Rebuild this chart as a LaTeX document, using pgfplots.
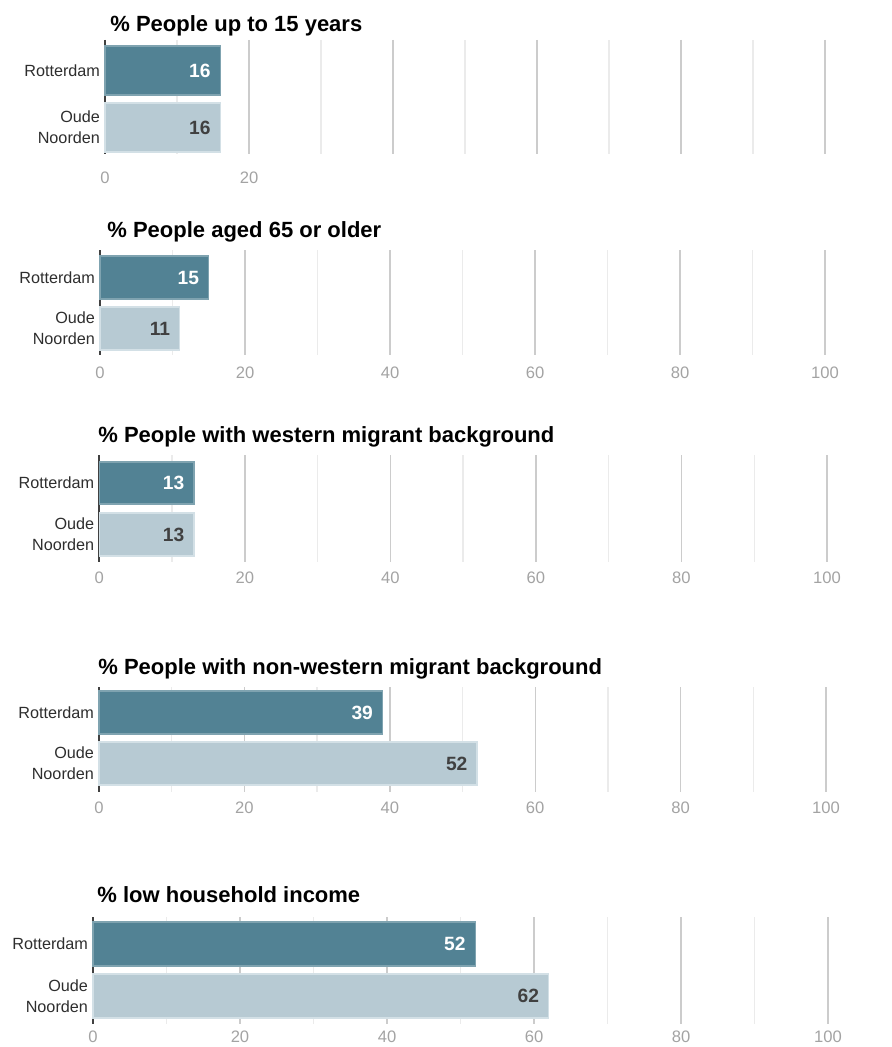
\documentclass[border=0pt]{standalone}
\usepackage{fontspec}
\setmainfont{Liberation Sans}
\usepackage{pgfplots}
\pgfplotsset{compat=1.18}
\definecolor{rfill}{HTML}{528294}
\definecolor{rdraw}{HTML}{7FA3B0}
\definecolor{ofill}{HTML}{B7CAD3}
\definecolor{odraw}{HTML}{D3E0E6}
\pgfplotsset{
  panel/.style={
    scale only axis, anchor=south west, clip=false,
    xbar, bar shift=0pt,
    xmin=0, xmax=100, y dir=reverse,
    xtick={0,20,...,100}, minor xtick={10,30,...,90},
    xmajorgrids, xminorgrids,
    major grid style={black!20, line width=0.7pt},
    minor grid style={black!8, line width=0.7pt},
    axis line style={draw=none},
    major tick length=0pt, minor tick length=0pt,
    tick style={draw=none},
    yticklabels={Rotterdam, Oude\\Noorden},
    yticklabel style={align=right, font=\fontsize{8.1}{10.5}\selectfont, text=black!82, xshift=1pt},
    xticklabel style={font=\fontsize{8.3}{10}\selectfont, text=black!36},
    /pgf/number format/assume math mode=true,
    extra x ticks={0}, extra x tick labels={},
    extra x tick style={major grid style={black!75, line width=0.8pt}},
    nodes near coords, point meta=x,
    nodes near coords style={anchor=east, xshift=-1.2pt, font=\fontsize{9.6}{10}\selectfont\bfseries},
  },
  rbar/.style={fill=rfill, draw=rdraw, line width=0.6pt, every node near coord/.append style={text=white}},
  obar/.style={fill=ofill, draw=odraw, line width=0.6pt, every node near coord/.append style={text=black!75}},
}
\begin{document}
\begin{tikzpicture}
\path[use as bounding box] (0pt,0pt) rectangle (445.5pt,-523.5pt);
\tikzset{ttl/.style={anchor=west, inner sep=0pt, font=\fontsize{11}{13}\selectfont\bfseries}}
% Panel 1
\node[ttl] at (55pt,-13pt) {\% People up to 15 years};
\begin{axis}[panel, at={(52.5pt,-77pt)}, width=360pt, height=57pt,
  ymin=40, ymax=154, ytick={70.5,127.5},
  xticklabels={0,20,,,,}, xticklabel style={yshift=-5.5pt}]
\addplot[rbar, bar width=49] coordinates {(16,70.5)};
\addplot[obar, bar width=49] coordinates {(16,127.5)};
\end{axis}
% Panel 2
\node[ttl] at (53.5pt,-116pt) {\% People aged 65 or older};
\begin{axis}[panel, at={(50pt,-177.5pt)}, width=362.5pt, height=52.5pt,
  ymin=250, ymax=355, ytick={277.5,328.5}, xticklabel style={yshift=-2.5pt}]
\addplot[rbar, bar width=43] coordinates {(15,277.5)};
\addplot[obar, bar width=43] coordinates {(11,328.5)};
\end{axis}
% Panel 3
\node[ttl] at (49pt,-218.5pt) {\% People with western migrant background};
\begin{axis}[panel, at={(49.65pt,-281pt)}, width=363.85pt, height=53.5pt,
  ymin=455, ymax=562, ytick={483,534.5}, xticklabel style={yshift=-1.5pt}]
\addplot[rbar, bar width=42] coordinates {(13,483)};
\addplot[obar, bar width=43] coordinates {(13,534.5)};
\end{axis}
% Panel 4
\node[ttl] at (49pt,-334.5pt) {\% People with non-western migrant background};
\begin{axis}[panel, at={(49.5pt,-396pt)}, width=363.5pt, height=52.5pt,
  ymin=687, ymax=792, ytick={712.5,763.5}, xticklabel style={yshift=-1.5pt}]
\addplot[rbar, bar width=43] coordinates {(39,712.5)};
\addplot[obar, bar width=43] coordinates {(52,763.5)};
\end{axis}
% Panel 5
\node[ttl] at (48.5pt,-447.5pt) {\% low household income};
\begin{axis}[panel, at={(46.5pt,-512pt)}, width=367.5pt, height=53.5pt,
  ymin=917, ymax=1024, ytick={944,996}, xticklabel style={yshift=0pt}]
\addplot[rbar, bar width=44] coordinates {(52,944)};
\addplot[obar, bar width=44] coordinates {(62,996)};
\end{axis}
\end{tikzpicture}
\end{document}
